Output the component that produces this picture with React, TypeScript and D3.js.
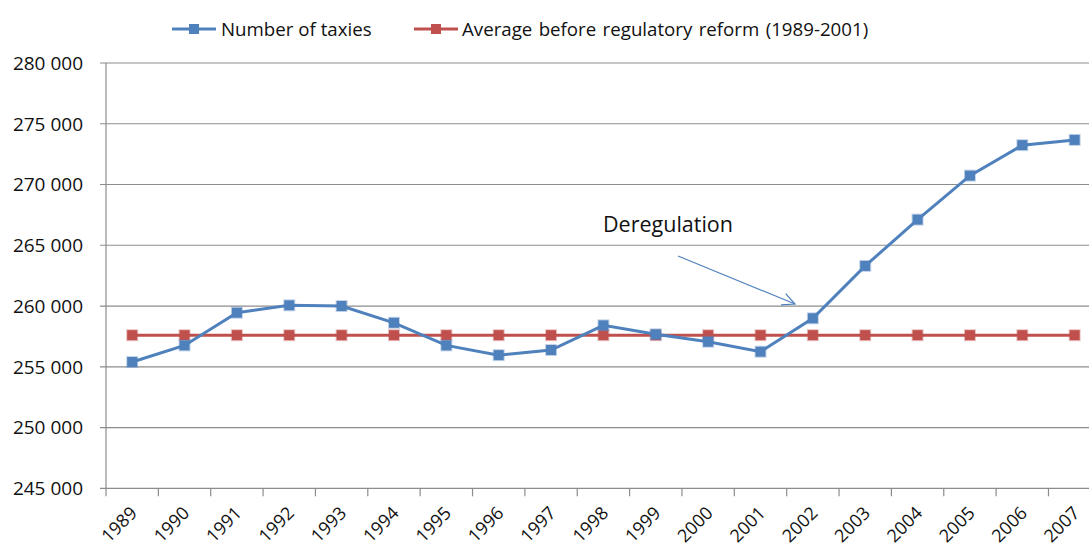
import React from "react";
import * as d3 from "d3";

const years = ["1989","1990","1991","1992","1993","1994","1995","1996","1997","1998","1999","2000","2001","2002","2003","2004","2005","2006","2007"];
const taxies = [255390,256760,259450,260060,260000,258620,256760,255960,256380,258410,257670,257060,256240,258990,263300,267110,270730,273240,273670];
const average = years.map(() => 257600);
const yTicks = [245000,250000,255000,260000,265000,270000,275000,280000];
const seriesNames = ["Number of taxies", "Average before regulatory reform (1989-2001)"];
const annotation = "Deregulation";

const W = 1089, H = 550;
const left = 106, top = 63, bottom = 488.3;
const band = 52.36;
const FONT = "'Open Sans', Lato, sans-serif";
const BLUE = "#4F81BD", RED = "#C0504D", GRID = "#8c8c8c";

export default function App() {
  const x = d3.scaleBand<string>().domain(years).range([left, left + band * years.length]).padding(0);
  const y = d3.scaleLinear().domain([245000, 280000]).range([bottom, top]);
  const cx = (yr: string) => (x(yr) as number) + x.bandwidth() / 2;
  const line = d3.line<number>().x((_, i) => cx(years[i])).y((d) => y(d));
  const fmt = (v: number) => d3.format(",")(v).replace(/,/g, " ");
  const ms = 10;
  const markers = (vals: number[], color: string) =>
    vals.map((v, i) => (
      <rect key={i} x={cx(years[i]) - ms / 2} y={y(v) - ms / 2} width={ms} height={ms} fill={color}
        stroke={color} strokeOpacity={0.35} strokeWidth={2} />
    ));
  const boundaries = d3.range(years.length + 1).map((i) => left + i * x.bandwidth());
  const a0 = [678, 256], a1 = [795, 304];
  const ang = Math.atan2(a1[1] - a0[1], a1[0] - a0[0]);
  const hl = 14, ha = 0.45;
  const h1 = [a1[0] - hl * Math.cos(ang - ha), a1[1] - hl * Math.sin(ang - ha)];
  const h2 = [a1[0] - hl * Math.cos(ang + ha), a1[1] - hl * Math.sin(ang + ha)];
  return (
    <svg width={W} height={H} style={{ position: "absolute", left: 0, top: 0, background: "#fff" }} fontFamily={FONT}>
      {yTicks.map((t) => (
        <g key={t}>
          <line x1={left - 6} x2={W} y1={y(t)} y2={y(t)} stroke={GRID} strokeWidth={1.2} />
          <text x={83} y={y(t)} dy="0.36em" textAnchor="end" fontSize={19} fill="#111">{fmt(t)}</text>
        </g>
      ))}
      <line x1={left} x2={left} y1={top} y2={bottom} stroke={GRID} strokeWidth={1.2} />
      {boundaries.map((bx, i) => (
        <line key={i} x1={bx} x2={bx} y1={bottom} y2={bottom + 8} stroke={GRID} strokeWidth={1.2} />
      ))}
      {years.map((yr) => (
        <text key={yr} transform={`translate(${cx(yr) + 6},${bottom + 26}) rotate(-45)`} textAnchor="end"
          fontSize={18} fill="#111">{yr}</text>
      ))}
      <path d={line(average) || ""} fill="none" stroke={RED} strokeWidth={3} />
      {markers(average, RED)}
      <path d={line(taxies) || ""} fill="none" stroke={BLUE} strokeWidth={3} />
      {markers(taxies, BLUE)}
      <text x={603} y={232} fontSize={21.5} fill="#111">{annotation}</text>
      <line x1={a0[0]} y1={a0[1]} x2={a1[0]} y2={a1[1]} stroke={BLUE} strokeWidth={1.2} />
      <polyline points={`${h1[0]},${h1[1]} ${a1[0]},${a1[1]} ${h2[0]},${h2[1]}`} fill="none" stroke={BLUE} strokeWidth={1.2} />
      <line x1={172} x2={216} y1={29} y2={29} stroke={BLUE} strokeWidth={3} />
      <rect x={194 - ms / 2} y={29 - ms / 2} width={ms} height={ms} fill={BLUE} />
      <text x={221} y={29} dy="0.36em" fontSize={18.7} fill="#111">{seriesNames[0]}</text>
      <line x1={414} x2={458} y1={29} y2={29} stroke={RED} strokeWidth={3} />
      <rect x={436 - ms / 2} y={29 - ms / 2} width={ms} height={ms} fill={RED} />
      <text x={462} y={29} dy="0.36em" fontSize={18.7} wordSpacing={1.5} fill="#111">{seriesNames[1]}</text>
    </svg>
  );
}
